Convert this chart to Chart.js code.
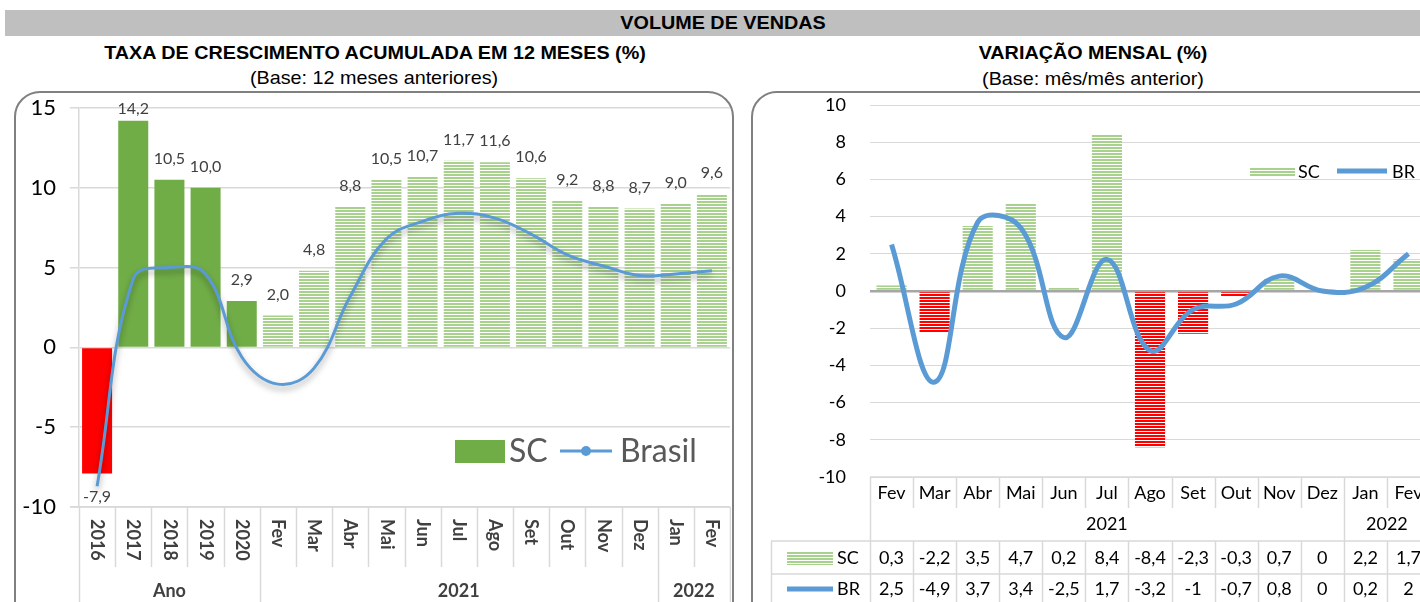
<!DOCTYPE html>
<html>
<head>
<meta charset="utf-8">
<script src="https://cdn.jsdelivr.net/npm/chart.js@4.4.1/dist/chart.umd.min.js"></script>
<style>
  body { margin: 0; width: 1420px; height: 602px; overflow: hidden; background: #fff; position: relative; font-family: "Liberation Sans", Arial, sans-serif; }
  .band { position: absolute; left: 5px; top: 10px; width: 1415px; height: 26px; background: #bfbfbf; }
  .t { position: absolute; transform: translateX(-50%) scaleX(1.04); white-space: nowrap; color: #000; line-height: 20px; font-size: 19px; }
  .b { font-weight: bold; }
  .box { position: absolute; border: 2px solid #808080; border-radius: 26px; }
  canvas { position: absolute; }
</style>
</head>
<body>
<div class="band"></div>
<div class="t b" style="left:723px;top:13px">VOLUME DE VENDAS</div>
<div class="t b" style="left:375px;top:43px">TAXA DE CRESCIMENTO ACUMULADA EM 12 MESES (%)</div>
<div class="t" style="left:374px;top:68px">(Base: 12 meses anteriores)</div>
<div class="t b" style="left:1093px;top:43px">VARIAÇÃO MENSAL (%)</div>
<div class="t" style="left:1093px;top:69px">(Base: mês/mês anterior)</div>

<div class="box" style="left:14px;top:91px;width:716px;height:560px"></div>
<div class="box" style="left:751px;top:91px;width:720px;height:560px"></div>

<canvas id="left" width="714" height="509" style="left:17px;top:93px"></canvas>
<canvas id="right" width="700" height="509" style="left:754px;top:93px"></canvas>

<script>
// acumulado 12 meses
const catLeft = ["2016", "2017", "2018", "2019", "2020", "Fev", "Mar", "Abr", "Mai", "Jun", "Jul", "Ago", "Set", "Out", "Nov", "Dez", "Jan", "Fev"];
const groupsLeft = [["Ano", 5], ["2021", 11], ["2022", 2]];
const scAcum = [-7.9, 14.2, 10.5, 10.0, 2.9, 2.0, 4.8, 8.8, 10.5, 10.7, 11.7, 11.6, 10.6, 9.2, 8.8, 8.7, 9.0, 9.6];
const brAcum = [-8.7, 4.3, 5.0, 4.6, -0.6, -2.3, -1.3, 3.2, 6.8, 7.9, 8.4, 8.1, 7.1, 5.8, 5.1, 4.5, 4.6, 4.8];
const yTicksLeft = [-10, -5, 0, 5, 10, 15];

// variacao mensal
const catRight = ["Fev", "Mar", "Abr", "Mai", "Jun", "Jul", "Ago", "Set", "Out", "Nov", "Dez", "Jan", "Fev"];
const groupsRight = [["2021", 11], ["2022", 2]];
const scMensal = [0.3, -2.2, 3.5, 4.7, 0.2, 8.4, -8.4, -2.3, -0.3, 0.7, 0, 2.2, 1.7];
const brMensal = [2.5, -4.9, 3.7, 3.4, -2.5, 1.7, -3.2, -1, -0.7, 0.8, 0, 0.2, 2];
const yTicksRight = [-10, -8, -6, -4, -2, 0, 2, 4, 6, 8, 10];

const fontFam = 'Lato, "Open Sans", sans-serif';
Chart.defaults.font.family = fontFam;

const GREEN = "#70ad47", LIGHT = "#a9d18e", RED = "#ff0000", BLUE = "#5b9bd5", GRID = "#d9d9d9";

function stripes(color) {
    const c = document.createElement("canvas");
    c.width = 4; c.height = 3;
    const x = c.getContext("2d");
    x.fillStyle = "#fff"; x.fillRect(0, 0, 4, 3);
    x.fillStyle = color; x.fillRect(0, 0, 4, 2);
    return x.createPattern(c, "repeat");
}
const greenStripes = stripes(LIGHT);
const redStripes = stripes(RED);

const fmt = v => String(v).replace(".", ",");
const fmt1 = v => v.toFixed(1).replace(".", ",");

const nAnual = groupsLeft[0][1];
const colorsLeft = scAcum.map((v, i) => v < 0 ? RED : (i < nAnual ? GREEN : greenStripes));
const colorsRight = scMensal.map(v => v < 0 ? redStripes : greenStripes);

function line(ctx, x1, y1, x2, y2) {
    ctx.beginPath(); ctx.moveTo(x1, y1); ctx.lineTo(x2, y2); ctx.stroke();
}

// keep the tick label padding from pushing the plot area down
function fixY(width) {
    return s => { s.width = width; s.paddingTop = 0; s.paddingBottom = 0; };
}

const leftDecor = {
    id: "leftDecor",
    beforeDatasetDraw(chart, args) {
        if (args.meta.type === "line") {
            const c = chart.ctx;
            c.save();
            c.shadowColor = "rgba(0,0,0,0.35)";
            c.shadowBlur = 6;
            c.shadowOffsetY = 4;
        }
    },
    afterDatasetDraw(chart, args) {
        if (args.meta.type === "line") chart.ctx.restore();
    },
    afterDatasetsDraw(chart) {
        const ctx = chart.ctx, a = chart.chartArea;
        const meta = chart.getDatasetMeta(1);
        ctx.save();
        ctx.font = "16px " + fontFam;
        ctx.fillStyle = "#404040";
        ctx.textAlign = "center";
        ctx.textBaseline = "middle";
        meta.data.forEach((el, i) => {
            const v = scAcum[i];
            const y = v >= 0 ? Math.max(el.y - 21, a.top + 1) : Math.min(el.y + 24, a.bottom - 10);
            ctx.fillText(fmt1(v), el.x, y);
        });
        ctx.restore();
    },
    afterDraw(chart) {
        const ctx = chart.ctx, a = chart.chartArea, x = chart.scales.x;
        const H = chart.height;
        const w = x.getPixelForValue(1) - x.getPixelForValue(0);
        ctx.save();
        ctx.strokeStyle = GRID;
        ctx.lineWidth = 1.5;
        // category separators
        const bounds = [0];
        groupsLeft.forEach(g => bounds.push(bounds[bounds.length - 1] + g[1]));
        for (let i = 0; i <= catLeft.length; i++) {
            const bx = Math.round(x.getPixelForValue(i) - w / 2) + 0.5;
            line(ctx, bx, a.bottom, bx, bounds.includes(i) ? H : a.bottom + 60);
        }
        line(ctx, a.left - 9, a.bottom, a.right, a.bottom);
        // rotated labels
        ctx.fillStyle = "#404040";
        ctx.font = "bold 18px " + fontFam;
        ctx.textAlign = "left";
        ctx.textBaseline = "middle";
        catLeft.forEach((lab, i) => {
            ctx.save();
            ctx.translate(x.getPixelForValue(i), a.bottom + 12);
            ctx.rotate(Math.PI / 2);
            ctx.fillText(lab, 0, 0);
            ctx.restore();
        });
        // group labels
        ctx.font = "bold 18px " + fontFam;
        ctx.textAlign = "center";
        groupsLeft.forEach((g, k) => {
            const i0 = bounds[k], i1 = bounds[k + 1];
            const cx = (x.getPixelForValue(i0) + x.getPixelForValue(i1 - 1)) / 2;
            ctx.fillText(g[0], cx, a.bottom + 84);
        });
        // legend
        const ds = chart.data.datasets;
        ctx.fillStyle = GREEN;
        ctx.fillRect(438, 347, 50, 23);
        ctx.fillStyle = "#595959";
        ctx.font = "32px " + fontFam;
        ctx.textAlign = "left";
        ctx.fillText(ds[1].label, 492, 359);
        ctx.strokeStyle = BLUE;
        ctx.lineWidth = 3;
        line(ctx, 543, 358, 595, 358);
        ctx.fillStyle = BLUE;
        ctx.beginPath(); ctx.arc(569, 358, 5, 0, Math.PI * 2); ctx.fill();
        ctx.fillStyle = "#595959";
        ctx.fillText(ds[0].label, 603, 359);
        ctx.restore();
    }
};

new Chart(document.getElementById("left"), {
    type: "bar",
    data: {
        labels: catLeft,
        datasets: [
            {
                type: "line",
                label: "Brasil",
                data: brAcum,
                borderColor: BLUE,
                borderWidth: 3,
                tension: 0.4,
                pointRadius: 0,
                order: 0,
            },
            {
                label: "SC",
                data: scAcum,
                backgroundColor: colorsLeft,
                barPercentage: 0.83,
                categoryPercentage: 1,
                order: 1,
            },
        ],
    },
    options: {
        responsive: false,
        animation: false,
        layout: { padding: { top: 15, right: 1, left: 0, bottom: 0 } },
        plugins: { legend: { display: false }, tooltip: { enabled: false } },
        scales: {
            x: {
                ticks: { display: false },
                grid: { display: false },
                border: { display: false },
                afterFit: s => { s.height = 95; },
            },
            y: {
                min: -10,
                max: 15,
                afterBuildTicks: s => { s.ticks = yTicksLeft.map(v => ({ value: v })); },
                ticks: { color: "#000", padding: 14, font: { size: 22 } },
                grid: { color: GRID, lineWidth: 1.5, tickLength: 9 },
                border: { color: GRID, width: 1.5 },
                afterFit: fixY(62),
            },
        },
    },
    plugins: [leftDecor],
});

const rightDecor = {
    id: "rightDecor",
    afterDraw(chart) {
        const ctx = chart.ctx, a = chart.chartArea, x = chart.scales.x;
        const H = chart.height, b = a.bottom;
        const w = x.getPixelForValue(1) - x.getPixelForValue(0);
        const bounds = [0];
        groupsRight.forEach(g => bounds.push(bounds[bounds.length - 1] + g[1]));
        ctx.save();
        ctx.strokeStyle = GRID;
        ctx.lineWidth = 1.5;
        line(ctx, a.left, b, a.right, b);
        for (let i = 0; i <= catRight.length; i++) {
            const bx = Math.round(x.getPixelForValue(i) - w / 2) + 0.5;
            if (bounds.includes(i)) {
                line(ctx, bx, b, bx, H);
            } else {
                line(ctx, bx, b, bx, b + 31);
                line(ctx, bx, b + 64, bx, H);
            }
        }
        line(ctx, 17, b + 64, a.right, b + 64);
        line(ctx, 17, b + 97, a.right, b + 97);
        line(ctx, 17.5, b + 64, 17.5, H);

        ctx.fillStyle = "#000";
        ctx.textAlign = "center";
        ctx.textBaseline = "middle";
        ctx.font = "18px " + fontFam;
        catRight.forEach((lab, i) => ctx.fillText(lab, x.getPixelForValue(i), b + 16));
        groupsRight.forEach((g, k) => {
            const cx = (x.getPixelForValue(bounds[k]) + x.getPixelForValue(bounds[k + 1] - 1)) / 2;
            ctx.fillText(g[0], cx, b + 47);
        });
        scMensal.forEach((v, i) => ctx.fillText(fmt(v), x.getPixelForValue(i), b + 81));
        brMensal.forEach((v, i) => ctx.fillText(fmt(v), x.getPixelForValue(i), b + 112));

        // row keys
        const ds = chart.data.datasets;
        ctx.fillStyle = greenStripes;
        ctx.fillRect(33, b + 74, 46, 14);
        ctx.strokeStyle = BLUE;
        ctx.lineWidth = 5;
        line(ctx, 33, b + 112, 79, b + 112);
        ctx.fillStyle = "#000";
        ctx.textAlign = "left";
        ctx.fillText(ds[1].label, 83, b + 81);
        ctx.fillText(ds[0].label, 83, b + 112);

        // legend
        ctx.fillStyle = greenStripes;
        ctx.fillRect(496, 74, 45, 9);
        ctx.fillStyle = "#000";
        ctx.font = "18px " + fontFam;
        ctx.fillText(ds[1].label, 544, 79);
        line(ctx, 583, 78, 633, 78);
        ctx.fillText(ds[0].label, 638, 79);
        ctx.restore();
    }
};

new Chart(document.getElementById("right"), {
    type: "bar",
    data: {
        labels: catRight,
        datasets: [
            {
                type: "line",
                label: "BR",
                data: brMensal,
                borderColor: BLUE,
                borderWidth: 5,
                tension: 0.4,
                pointRadius: 0,
                order: 0,
            },
            {
                label: "SC",
                data: scMensal,
                backgroundColor: colorsRight,
                barPercentage: 0.7,
                categoryPercentage: 1,
                order: 1,
            },
        ],
    },
    options: {
        responsive: false,
        animation: false,
        layout: { padding: { top: 12, right: 24, left: 0, bottom: 0 } },
        plugins: { legend: { display: false }, tooltip: { enabled: false } },
        scales: {
            x: {
                ticks: { display: false },
                grid: { display: false },
                border: { display: false },
                afterFit: s => { s.height = 125; },
            },
            y: {
                min: -10,
                max: 10,
                afterBuildTicks: s => { s.ticks = yTicksRight.map(v => ({ value: v })); },
                ticks: { color: "#000", padding: 24, font: { size: 18 } },
                grid: {
                    color: c => c.tick && c.tick.value === 0 ? "#a6a6a6" : GRID,
                    lineWidth: c => c.tick && c.tick.value === 0 ? 2.5 : 1,
                    drawTicks: false,
                },
                border: { display: false },
                afterFit: fixY(116),
            },
        },
    },
    plugins: [rightDecor],
});
</script>
</body>
</html>
